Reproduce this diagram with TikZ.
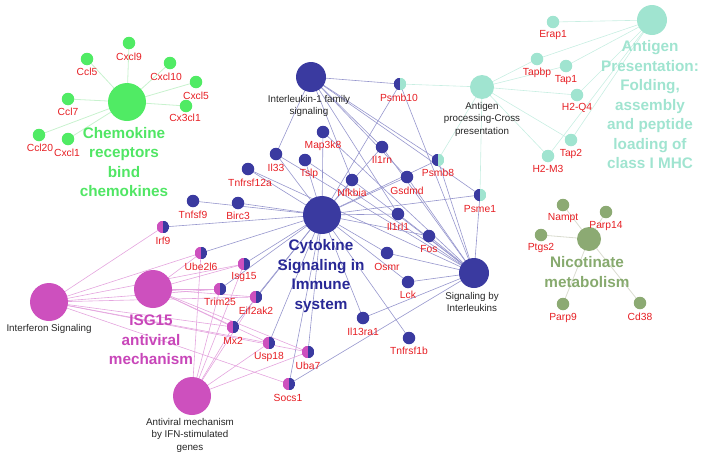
\documentclass[tikz,border=0pt]{standalone}
\usepackage{fontspec}
\setmainfont{Liberation Sans}
\usetikzlibrary{backgrounds}
\definecolor{blueN}{RGB}{58,58,160}
\definecolor{magN}{RGB}{205,80,190}
\definecolor{aquaN}{RGB}{160,228,208}
\definecolor{greenN}{RGB}{80,235,100}
\definecolor{oliveN}{RGB}{140,170,115}
\definecolor{redL}{RGB}{230,30,35}
\definecolor{cytT}{RGB}{40,40,150}
\definecolor{isgT}{RGB}{200,70,185}
\definecolor{chemT}{RGB}{80,230,100}
\definecolor{nicT}{RGB}{135,170,110}
\definecolor{eBlue}{RGB}{150,150,205}
\definecolor{eMag}{RGB}{228,165,222}
\definecolor{eAqua}{RGB}{200,238,226}
\definecolor{eGreen}{RGB}{200,242,206}
\definecolor{eNic}{RGB}{218,220,208}
\tikzset{
  hub/.style 2 args={circle, fill=#1, draw=none, inner sep=0pt, minimum size=#2},
  leaf/.style={circle, fill=#1, draw=none, inner sep=0pt, minimum size=12.5pt},
  halfnode/.style 2 args={circle, inner sep=0pt, minimum size=12.5pt,
    path picture={\fill[#1] (path picture bounding box.south west) rectangle (path picture bounding box.north);
                  \fill[#2] (path picture bounding box.south) rectangle (path picture bounding box.north east);}},
  lab/.style={text=redL, font=\fontsize{10.3}{12}\selectfont, inner sep=0pt},
  blab/.style={text=black!85, font=\fontsize{9.8}{12.5}\selectfont, align=center, inner sep=0pt},
  title/.style={text=#1, font=\bfseries\fontsize{15.3}{19.5}\selectfont, align=center, inner sep=0pt},
  eb/.style={draw=eBlue, line width=0.6pt},
  em/.style={draw=eMag, line width=0.6pt},
  ea/.style={draw=eAqua, line width=0.6pt},
  eg/.style={draw=eGreen, line width=0.8pt},
  en/.style={draw=eNic, line width=0.8pt},
}
\begin{document}
\begin{tikzpicture}[x=1pt,y=-1pt]
\useasboundingbox (0,0) rectangle (701,458);
% hubs
\node[hub={greenN}{38pt}] (chem) at (127,102) {};
\node[hub={blueN}{30pt}] (il1) at (311,77) {};
\node[hub={aquaN}{24pt}] (agp) at (482,87) {};
\node[hub={aquaN}{30pt}] (agm) at (652,20) {};
\node[hub={blueN}{38pt}] (cyt) at (322,215) {};
\node[hub={blueN}{30pt}] (sil) at (474,273) {};
\node[hub={magN}{38pt}] (ifn) at (49,302) {};
\node[hub={magN}{38pt}] (isg) at (153,289) {};
\node[hub={magN}{38pt}] (avm) at (192,396) {};
\node[hub={oliveN}{24pt}] (nic) at (589,239) {};
% hub texts
\node[title=chemT] (chemt) at (124,162) {Chemokine\\receptors\\bind\\chemokines};
\node[title=cytT] (cytt) at (321,276) {Cytokine\\Signaling in\\Immune\\system};
\node[title=isgT] (isgt) at (151,340) {ISG15\\antiviral\\mechanism};
\node[title=aquaN] (agmt) at (650,105) {Antigen\\Presentation:\\Folding,\\assembly\\and peptide\\loading of\\class I MHC};
\node[title=nicT] (nict) at (587,272) {Nicotinate\\metabolism};
\node[blab] (il1t) at (309,106) {Interleukin-1 family\\signaling};
\node[blab] (agpt) at (482,119) {Antigen\\processing-Cross\\presentation};
\node[blab] (silt) at (472,302) {Signaling by\\Interleukins};
\node[blab] (ifnt) at (49,329) {Interferon Signaling};
\node[blab] (avmt) at (190,435) {Antiviral mechanism\\by IFN-stimulated\\genes};
% chemokine leaves
\foreach \n/\x/\y/\t/\lx/\ly in {Cxcl9/129/43/Cxcl9/129/57, Ccl5/87/59/Ccl5/87/72, Cxcl10/170/63/Cxcl10/166/77,
  Cxcl5/196/82/Cxcl5/196/96, Cx3cl1/186/106/Cx3cl1/185/118, Ccl7/68/99/Ccl7/68/112,
  Ccl20/39/135/Ccl20/40/148, Cxcl1/68/139/Cxcl1/67/153}
{\node[leaf=greenN] (\n) at (\x,\y) {}; \node[lab] (\n l) at (\lx,\ly) {\t};}
% blue leaves
\foreach \n/\x/\y/\t/\lx/\ly in {Map3k8/323/132/Map3k8/323/146, Il1rn/382/147/Il1rn/382/160, Il33/276/154/Il33/276/168,
  Tslp/305/160/Tslp/309/174, Tnfrsf12a/248/169/Tnfrsf12a/250/183, Nfkbia/352/180/Nfkbia/352/193,
  Gsdmd/407/177/Gsdmd/407/191, Birc3/238/203/Birc3/238/216, Tnfsf9/193/201/Tnfsf9/193/215,
  Il1rl1/398/214/Il1rl1/398/227, Fos/429/236/Fos/429/249, Osmr/387/253/Osmr/387/267,
  Lck/408/282/Lck/408/295, Il13ra1/363/318/Il13ra1/363/332, Tnfrsf1b/409/338/Tnfrsf1b/409/351}
{\node[leaf=blueN] (\n) at (\x,\y) {}; \node[lab] (\n l) at (\lx,\ly) {\t};}
% blue/aqua halves
\foreach \n/\x/\y/\t/\lx/\ly in {Psmb10/400/84/Psmb10/399/98, Psmb8/438/160/Psmb8/438/173, Psme1/480/195/Psme1/480/209}
{\node[halfnode={blueN}{aquaN}] (\n) at (\x,\y) {}; \node[lab] (\n l) at (\lx,\ly) {\t};}
% magenta/blue halves
\foreach \n/\x/\y/\t/\lx/\ly in {Irf9/163/227/Irf9/163/241, Ube2l6/201/253/Ube2l6/201/267, Isg15/244/264/Isg15/244/277,
  Trim25/220/289/Trim25/220/302, Eif2ak2/256/297/Eif2ak2/256/311, Mx2/233/327/Mx2/233/341,
  Usp18/269/343/Usp18/269/357, Uba7/308/352/Uba7/308/366, Socs1/289/384/Socs1/288/398}
{\node[halfnode={magN}{blueN}] (\n) at (\x,\y) {}; \node[lab] (\n l) at (\lx,\ly) {\t};}
% antigen leaves
\foreach \n/\x/\y/\t/\lx/\ly in {Erap1/553/22/Erap1/553/35, Tapbp/537/59/Tapbp/537/73, Tap1/566/66/Tap1/566/80,
  H2Q4/577/95/H2-Q4/577/108, Tap2/571/140/Tap2/571/154, H2M3/548/156/H2-M3/548/169}
{\node[leaf=aquaN] (\n) at (\x,\y) {}; \node[lab] (\n l) at (\lx,\ly) {\t};}
% nicotinate leaves
\foreach \n/\x/\y/\t/\lx/\ly in {Nampt/563/205/Nampt/563/218, Parp14/606/212/Parp14/606/226, Ptgs2/541/235/Ptgs2/541/248,
  Parp9/563/304/Parp9/563/318, Cd38/640/303/Cd38/640/317}
{\node[leaf=oliveN] (\n) at (\x,\y) {}; \node[lab] (\n l) at (\lx,\ly) {\t};}
% edges
\begin{pgfonlayer}{background}
\foreach \g in {Cxcl9,Ccl5,Cxcl10,Cxcl5,Cx3cl1,Ccl7,Ccl20,Cxcl1} \draw[eg] (chem.center) -- (\g.center);
\foreach \g in {Nampt,Parp14,Ptgs2,Parp9,Cd38} \draw[en] (nic.center) -- (\g.center);
\foreach \g in {Erap1,Tapbp,Tap1,H2Q4,Tap2,H2M3} \draw[ea] (agm.center) -- (\g.center);
\foreach \g in {Psmb10,Psmb8,Psme1,Tapbp,Tap1,H2Q4,Tap2,H2M3} \draw[ea] (agp.center) -- (\g.center);
\foreach \g in {Tnfsf9,Birc3,Tnfrsf12a,Il33,Tslp,Map3k8,Nfkbia,Il1rn,Gsdmd,Psmb8,Psmb10,Psme1,Il1rl1,Fos,Osmr,Lck,Il13ra1,Tnfrsf1b,Irf9,Ube2l6,Isg15,Trim25,Eif2ak2,Mx2,Usp18,Uba7,Socs1}
  \draw[eb] (cyt.center) -- (\g.center);
\foreach \g in {Il33,Nfkbia,Il1rn,Gsdmd,Psmb10,Psmb8,Psme1,Il1rl1}
  \draw[eb] (il1.center) -- (\g.center);
\foreach \g in {Il33,Tslp,Tnfrsf12a,Map3k8,Nfkbia,Il1rn,Gsdmd,Psmb8,Psmb10,Psme1,Il1rl1,Fos,Osmr,Lck,Il13ra1,Socs1}
  \draw[eb] (sil.center) -- (\g.center);
\foreach \g in {Irf9,Ube2l6,Isg15,Trim25,Eif2ak2,Mx2,Usp18,Uba7,Socs1}
  \draw[em] (ifn.center) -- (\g.center);
\foreach \g in {Ube2l6,Isg15,Trim25,Eif2ak2,Mx2,Usp18,Uba7}
  \draw[em] (isg.center) -- (\g.center);
\foreach \g in {Ube2l6,Isg15,Trim25,Eif2ak2,Mx2,Usp18,Uba7}
  \draw[em] (avm.center) -- (\g.center);
\end{pgfonlayer}
\end{tikzpicture}
\end{document}
